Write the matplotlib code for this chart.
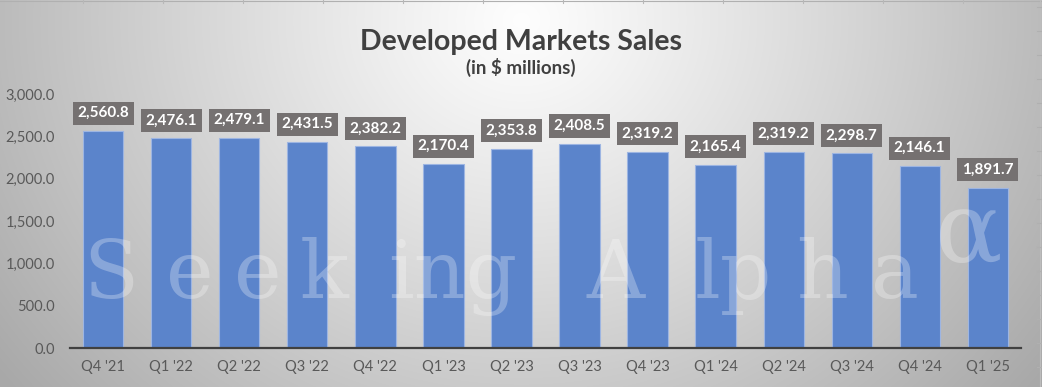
#!/usr/bin/env python3
"""Developed Markets Sales bar chart (quarterly, $ millions)."""

import numpy as np
import matplotlib
matplotlib.use("Agg")
import matplotlib.pyplot as plt
import matplotlib.ticker as mticker

quarters = ["Q4 '21", "Q1 '22", "Q2 '22", "Q3 '22", "Q4 '22", "Q1 '23", "Q2 '23",
            "Q3 '23", "Q4 '23", "Q1 '24", "Q2 '24", "Q3 '24", "Q4 '24", "Q1 '25"]
sales = [2560.8, 2476.1, 2479.1, 2431.5, 2382.2, 2170.4, 2353.8,
         2408.5, 2319.2, 2165.4, 2319.2, 2298.7, 2146.1, 1891.7]

BAR = "#5B84CB"
LABEL_BOX = "#757171"
TICK = "#595959"
W, H = 1042, 387

plt.rcParams["font.family"] = ["Lato", "DejaVu Sans"]

fig = plt.figure(figsize=(W / 100, H / 100), dpi=100)

# radial grey background
bg = fig.add_axes([0, 0, 1, 1], zorder=-5)
yy, xx = np.mgrid[0:H, 0:W]
d = np.sqrt(((xx - W * 0.5) / (W * 0.5)) ** 2 + ((yy - 20) / (H * 1.2)) ** 2)
g = 0.995 - 0.26 * np.clip(d, 0, 1.25) ** 1.1
bg.imshow(np.dstack([g, g, g]), extent=(0, W, H, 0), aspect="auto")
bg.set_xlim(0, W)
bg.set_ylim(H, 0)
# sheet grid remnants at top and right edges
bg.plot([0, W], [1, 1], color="#b0b0b0", lw=0.8)
for x in range(83, 1000, 80):
    bg.plot([x, x], [0, 3], color="#b8b8b8", lw=0.8)
bg.plot([1040, 1040], [0, H], color="#bdbdbd", lw=0.8)
for y in range(7, H, 24):
    bg.plot([1037, 1042], [y, y], color="#b0b0b0", lw=0.8)
bg.axis("off")

ax = fig.add_axes([70 / W, 1 - 348 / H, (1021 - 70) / W, (348 - 94) / H])
ax.patch.set_visible(False)

x = np.arange(len(quarters))
ax.bar(x, sales, width=0.59, color=BAR, edgecolor="#9db5e2", linewidth=0.8, zorder=2)

for xi, v in zip(x, sales):
    ax.annotate(f"{v:,.1f}", xy=(xi, v), xytext=(0, 18), textcoords="offset pixels",
                ha="center", va="center", color="white", fontsize=11, fontweight="bold",
                bbox=dict(boxstyle="square,pad=0.3", facecolor=LABEL_BOX, edgecolor="none"),
                annotation_clip=False, zorder=5)

ax.set_xlim(-0.49, len(quarters) - 0.51)
ax.set_ylim(0, 3000)
ax.yaxis.set_major_locator(mticker.MultipleLocator(500))
ax.yaxis.set_major_formatter(mticker.FuncFormatter(lambda v, _: f"{v:,.1f}"))
ax.set_xticks(x)
ax.set_xticklabels(quarters)
ax.tick_params(axis="both", length=0, colors=TICK, labelsize=10.5)
ax.tick_params(axis="x", pad=9)
ax.tick_params(axis="y", pad=11)
for s in ["top", "right", "left"]:
    ax.spines[s].set_visible(False)
ax.spines["bottom"].set_color("#404040")
ax.spines["bottom"].set_linewidth(1.6)

fig.text(0.5, 1 - 42 / H, "Developed Markets Sales", ha="center", va="center",
         fontsize=20.5, fontweight="bold", color="#404040")
fig.text(0.5, 1 - 67 / H, "(in $ millions)", ha="center", va="center",
         fontsize=13.5, fontweight="bold", color="#404040")

# watermark (letter-spaced)
wm = dict(family=["DejaVu Serif"], fontsize=58, color="white",
          alpha=0.28, va="baseline", ha="left", zorder=10)
for ch, px in zip(["S", "e", "e", "k", "ing", "A", "lp", "h", "a"],
                  [83, 166, 234, 300, 388, 586, 695, 796, 871]):
    fig.text(px / W, 1 - 298 / H, ch, **wm)
fig.text(935 / W, 1 - 262 / H, "α", family=["DejaVu Serif"],
         fontsize=72, color="white", alpha=0.28, va="baseline", zorder=1)

fig.savefig("out.png", dpi=100)
